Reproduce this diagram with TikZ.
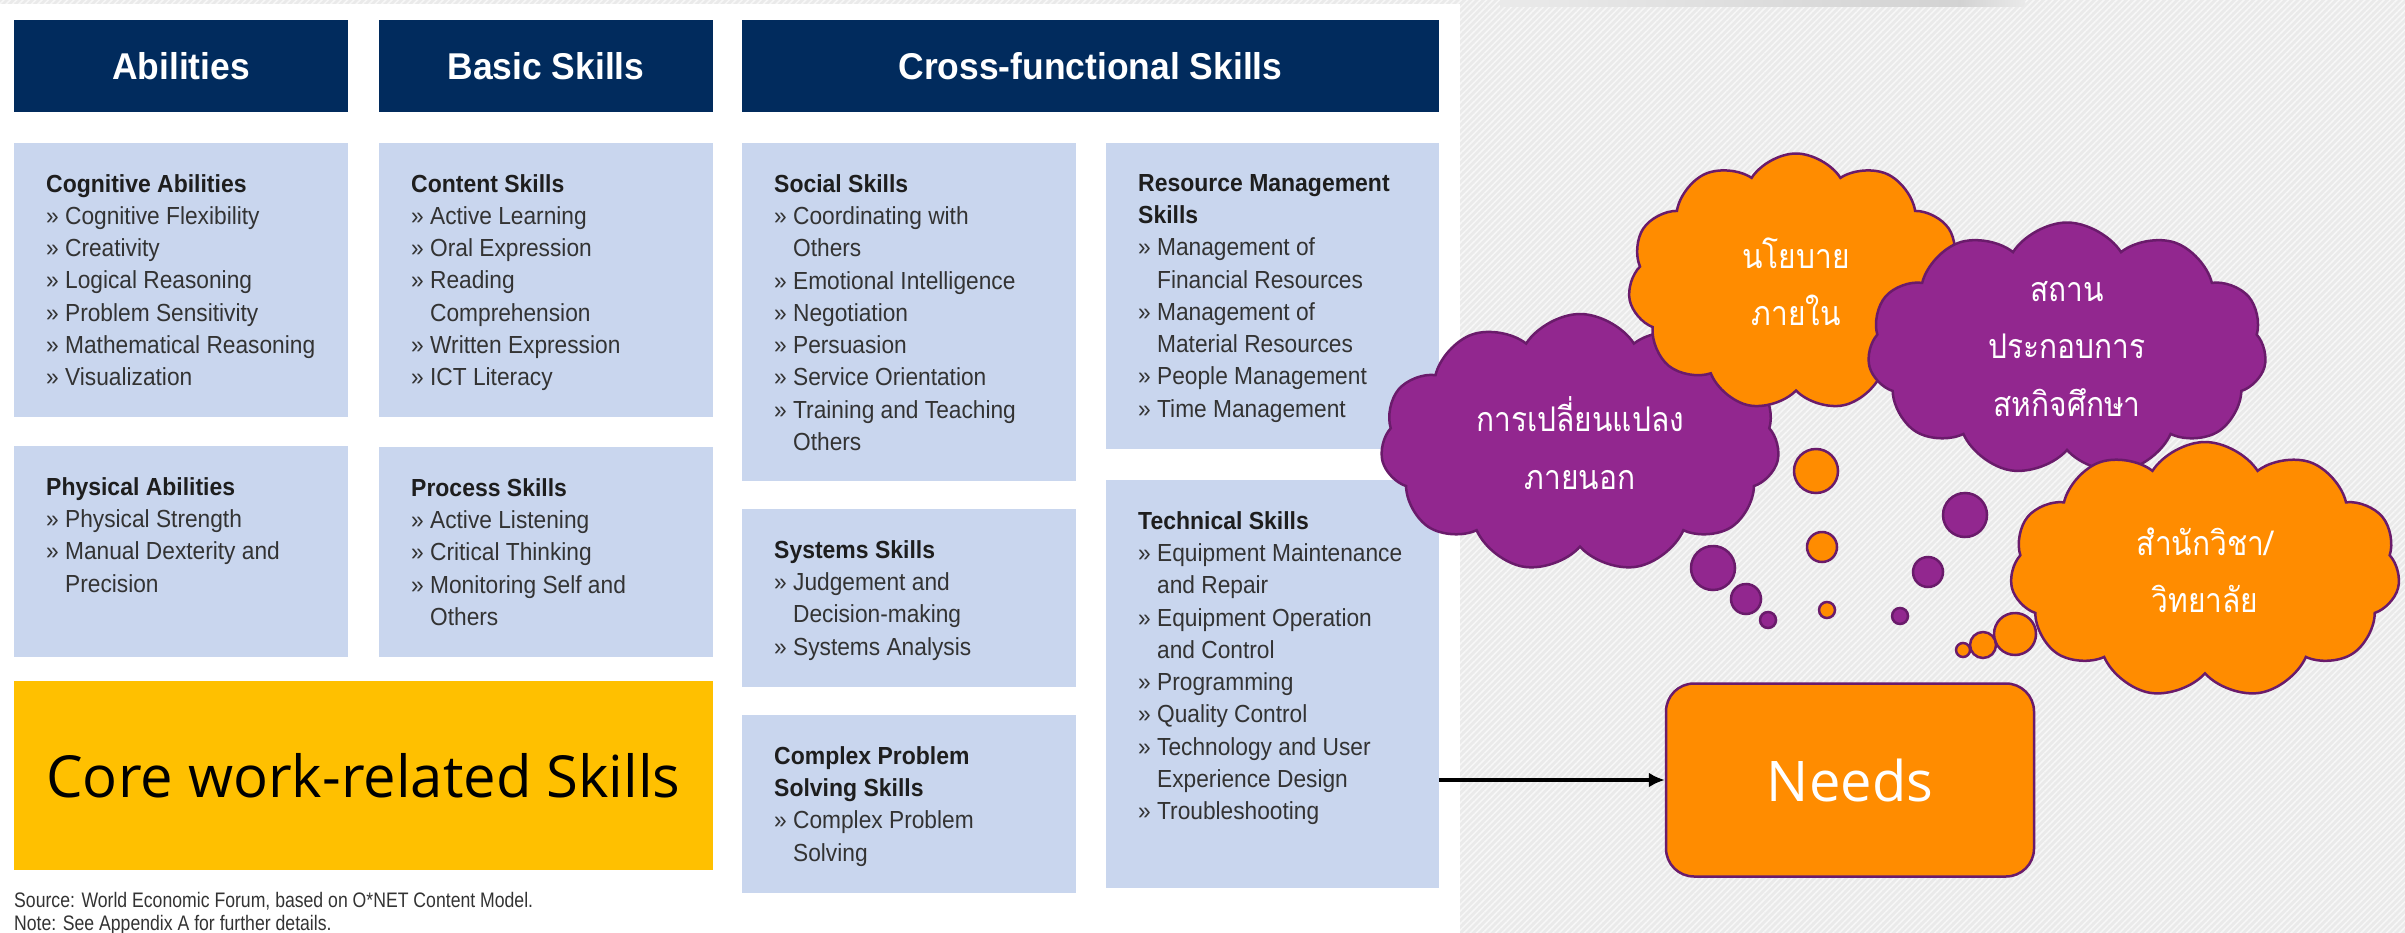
\documentclass[tikz,border=0pt]{standalone}
\usepackage{fontspec}
\setmainfont{Liberation Sans}
\newfontfamily\boxfont[FakeStretch=0.92]{Liberation Sans}
\newfontfamily\notefont[FakeStretch=0.84]{Liberation Sans}
\newfontfamily\titlefont[FakeStretch=0.93]{Liberation Sans}
\newfontfamily\headfont[FakeStretch=0.95]{Liberation Sans}
\newfontfamily\bigfont{Open Sans}
\newfontfamily\thaifont[Script=Thai,FakeStretch=0.88]{Loma}
\usetikzlibrary{positioning,shapes.symbols,arrows.meta,patterns.meta}

\definecolor{navy}{HTML}{012B5D}
\definecolor{paleblue}{HTML}{C9D6EE}
\definecolor{coreyellow}{HTML}{FFC000}
\definecolor{ideaorange}{HTML}{FF8C00}
\definecolor{ideapurple}{HTML}{92278F}
\definecolor{ideaborder}{HTML}{6A1B6B}
\definecolor{bggray}{HTML}{EAEAEA}
\definecolor{bglines}{HTML}{F7F7F7}
\definecolor{bodytext}{HTML}{333333}
\definecolor{titletext}{HTML}{1E1E1E}

\newcommand{\itm}{» }
\newcommand{\cnt}{\phantom{» }}
\newcommand{\ttl}[1]{{\titlefont\bfseries\color{titletext}#1}}

\begin{document}
\begin{tikzpicture}[x=1pt,y=-1pt,
    header/.style={fill=navy,text=white,font=\headfont\bfseries\fontsize{37.3}{44}\selectfont,minimum height=92pt,inner sep=0pt,outer sep=0pt},
    skillbox/.style={fill=paleblue,minimum width=334pt,inner sep=0pt,outer sep=0pt,anchor=north west},
    skilltext/.style={anchor=north west,inner sep=0pt,align=left,text=bodytext,font=\boxfont\fontsize{24.7}{32.3}\selectfont},
    corebox/.style={fill=coreyellow,text=black,font=\bigfont\fontsize{58}{64}\selectfont,minimum width=699pt,minimum height=189pt,inner sep=0pt,outer sep=0pt,anchor=north west},
    thought/.style={cloud,cloud puffs=11,cloud puff arc=115,cloud ignores aspect,draw=ideaborder,line width=2.5pt,text=white,align=center,inner sep=0pt,font=\thaifont\fontsize{34}{57.5}\selectfont},
    bubble/.style={circle,draw=ideaborder,line width=2.5pt,inner sep=0pt},
    needsbox/.style={rectangle,rounded corners=28pt,fill=ideaorange,draw=ideaborder,line width=2.5pt,text=white,font=\bigfont\fontsize{56}{60}\selectfont,minimum width=368pt,minimum height=193pt},
    flow/.style={-{Latex[length=16pt,width=15pt]},line width=3.5pt,black}]

    \useasboundingbox (0,0) rectangle (2405,933);

    % background
    \fill[bggray] (0,0) rectangle (2405,933);
    \fill[pattern={Lines[angle=45,distance=4.5pt,line width=1.5pt]},pattern color=bglines] (0,0) rectangle (2405,933);
    \shade[left color=bggray,right color=gray!35] (1500,0) rectangle (1960,7);
    \shade[left color=gray!35,right color=bggray] (1960,0) rectangle (2025,7);
    \fill[white] (0,4) rectangle (1460,933);

    % headers
    \node[header,minimum width=334pt] (abil) at (181,66) {Abilities};
    \node[header,minimum width=334pt,right=31pt of abil] (basic) {Basic Skills};
    \node[header,minimum width=697pt,right=29pt of basic] (cross) {Cross-functional Skills};

    % skill boxes
    \node[skillbox,minimum height=274pt,below=31pt of abil.south west,anchor=north west] (cog) {};
    \node[skillbox,minimum height=211pt,below=29pt of cog.south west,anchor=north west] (phys) {};
    \node[corebox,below=24pt of phys.south west,anchor=north west] (core) {Core work-related Skills};
    \node[skillbox,minimum height=274pt,below=31pt of basic.south west,anchor=north west] (content) {};
    \node[skillbox,minimum height=210pt,below=30pt of content.south west,anchor=north west] (process) {};
    \node[skillbox,minimum height=338pt,below=31pt of cross.south west,anchor=north west] (social) {};
    \node[skillbox,minimum height=178pt,below=28pt of social.south west,anchor=north west] (systems) {};
    \node[skillbox,minimum height=178pt,below=28pt of systems.south west,anchor=north west] (complex) {};
    \node[skillbox,minimum width=333pt,minimum height=306pt,below=31pt of cross.south east,anchor=north east] (resource) {};
    \node[skillbox,minimum width=333pt,minimum height=408pt,below=31pt of resource.south west,anchor=north west] (tech) {};

    % box texts
    \node[skilltext] (cogtext) at ([xshift=32pt,yshift=-31pt]cog.north west)
        {\ttl{Cognitive Abilities}\\ \itm Cognitive Flexibility\\ \itm Creativity\\ \itm Logical Reasoning\\
         \itm Problem Sensitivity\\ \itm Mathematical Reasoning\\ \itm Visualization};
    \node[skilltext] (phystext) at ([xshift=32pt,yshift=-31pt]phys.north west)
        {\ttl{Physical Abilities}\\ \itm Physical Strength\\ \itm Manual Dexterity and\\ \cnt Precision};
    \node[skilltext] (contenttext) at ([xshift=32pt,yshift=-31pt]content.north west)
        {\ttl{Content Skills}\\ \itm Active Learning\\ \itm Oral Expression\\ \itm Reading\\ \cnt Comprehension\\
         \itm Written Expression\\ \itm ICT Literacy};
    \node[skilltext] (processtext) at ([xshift=32pt,yshift=-31pt]process.north west)
        {\ttl{Process Skills}\\ \itm Active Listening\\ \itm Critical Thinking\\ \itm Monitoring Self and\\ \cnt Others};
    \node[skilltext] (socialtext) at ([xshift=32pt,yshift=-31pt]social.north west)
        {\ttl{Social Skills}\\ \itm Coordinating with\\ \cnt Others\\ \itm Emotional Intelligence\\ \itm Negotiation\\
         \itm Persuasion\\ \itm Service Orientation\\ \itm Training and Teaching\\ \cnt Others};
    \node[skilltext] (systemstext) at ([xshift=32pt,yshift=-31pt]systems.north west)
        {\ttl{Systems Skills}\\ \itm Judgement and\\ \cnt Decision-making\\ \itm Systems Analysis};
    \node[skilltext] (complextext) at ([xshift=32pt,yshift=-31pt]complex.north west)
        {\ttl{Complex Problem}\\ \ttl{Solving Skills}\\ \itm Complex Problem\\ \cnt Solving};
    \node[skilltext] (resourcetext) at ([xshift=32pt,yshift=-31pt]resource.north west)
        {\ttl{Resource Management}\\ \ttl{Skills}\\ \itm Management of\\ \cnt Financial Resources\\ \itm Management of\\
         \cnt Material Resources\\ \itm People Management\\ \itm Time Management};
    \node[skilltext] (techtext) at ([xshift=32pt,yshift=-31pt]tech.north west)
        {\ttl{Technical Skills}\\ \itm Equipment Maintenance\\ \cnt and Repair\\ \itm Equipment Operation\\ \cnt and Control\\
         \itm Programming\\ \itm Quality Control\\ \itm Technology and User\\ \cnt Experience Design\\ \itm Troubleshooting};

    \node[anchor=north west,inner sep=0pt,align=left,text=bodytext,font=\notefont\fontsize{21}{23}\selectfont] (source) at (14,892)
        {Source: World Economic Forum, based on O*NET Content Model.\\ Note: See Appendix A for further details.};

    % clouds
    \node[thought,fill=ideapurple,minimum width=399pt,minimum height=258pt] (outside) at (1580,443) {การเปลี่ยนแปลง\\ภายนอก};
    \node[thought,fill=ideaorange,minimum width=336pt,minimum height=257pt] (policy) at (1796,282) {นโยบาย\\ภายใน};
    \node[thought,fill=ideapurple,minimum width=399pt,minimum height=253pt] (company) at (2067,349) {สถาน\\ประกอบการ\\สหกิจศึกษา};
    \node[thought,fill=ideaorange,minimum width=390pt,minimum height=256pt] (school) at (2205,570) {สำนักวิชา/\\วิทยาลัย};

    \foreach \x/\y/\r/\c [count=\i] in {1816/471/22/ideaorange,1822/547/15/ideaorange,1827/610/8/ideaorange,
        1965/515/22/ideapurple,1928/572/15/ideapurple,1900/616/8/ideapurple,
        1713/568/22/ideapurple,1746/599/15/ideapurple,1768/620/8/ideapurple,
        2015/634/21/ideaorange,1983/645/13/ideaorange,1963/650/7/ideaorange}{
        \node[bubble,fill=\c,minimum size=2*\r pt] (b\i) at (\x,\y) {};
    }

    % needs
    \node[needsbox] (needs) at (1850,780) {Needs};
    \draw[flow] (tech.east |- needs.west) -- (needs.west);

\end{tikzpicture}
\end{document}
